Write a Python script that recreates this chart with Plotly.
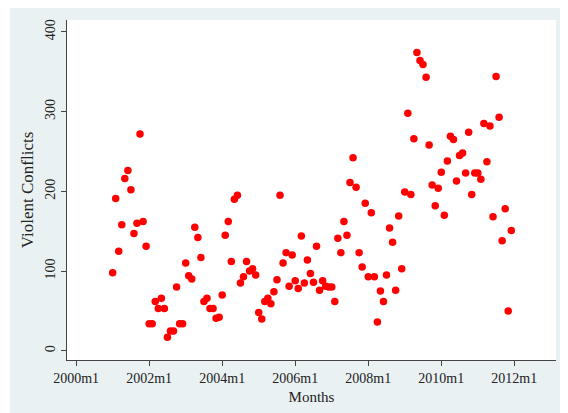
import pandas as pd
import plotly.graph_objects as go


##########################
########## DATA ##########
##########################

# monthly series, 2001m1 .. 2011m12
start_month = '2001-01'
end_month = '2011-12'

conflicts_2001 = [98, 191, 125, 158, 216, 226, 202, 147, 160, 272, 162, 131]
conflicts_2002 = [34, 34, 62, 53, 66, 53, 17, 25, 25, 80, 34, 34]
conflicts_2003 = [110, 94, 90, 155, 142, 117, 62, 66, 53, 53, 41, 42]
conflicts_2004 = [70, 145, 162, 112, 190, 195, 85, 93, 112, 100, 103, 95]
conflicts_2005 = [48, 40, 62, 66, 59, 74, 89, 195, 110, 123, 81, 120]
conflicts_2006 = [88, 78, 144, 85, 114, 97, 86, 131, 76, 88, 81, 80]
conflicts_2007 = [80, 62, 141, 123, 162, 145, 211, 242, 205, 123, 105, 185]
conflicts_2008 = [93, 173, 93, 36, 75, 62, 95, 154, 136, 76, 169, 103]
conflicts_2009 = [199, 298, 196, 266, 374, 364, 359, 343, 258, 208, 182, 204]
conflicts_2010 = [224, 170, 238, 269, 265, 213, 245, 248, 223, 274, 196, 223]
conflicts_2011 = [223, 215, 285, 237, 282, 168, 344, 293, 138, 178, 50, 151]

x_tick_labels = ['2000m1', '2002m1', '2004m1', '2006m1', '2008m1', '2010m1', '2012m1']
y_tick_values = [0, 100, 200, 300, 400]


def get_df():
    conflicts = (conflicts_2001 + conflicts_2002 + conflicts_2003 + conflicts_2004
                 + conflicts_2005 + conflicts_2006 + conflicts_2007 + conflicts_2008
                 + conflicts_2009 + conflicts_2010 + conflicts_2011)
    months = pd.period_range(start_month, end_month, freq='M')
    df = pd.DataFrame({'month': months, 'conflicts': conflicts})
    # months since 2000m1, like a stata %tm axis
    df['t'] = (df['month'].dt.year - 2000) * 12 + df['month'].dt.month - 1
    return df


def tick_pos(label):
    year, month = label.split('m')
    return (int(year) - 2000) * 12 + int(month) - 1


##########################
########## PLOT ##########
##########################

W, H = 568, 413
OFF = 8  # default body margin of the html page

# plot area in page pixels
px_left, px_right, px_top, px_bottom = 67, 556, 20, 360
pw, ph = px_right - px_left, px_bottom - px_top


def px_x(x):
    return (x - px_left) / pw


def px_y(y):
    return (px_bottom - y) / ph


df = get_df()

fig = go.Figure(go.Scatter(
    x=df['t'], y=df['conflicts'], mode='markers',
    marker=dict(color='#ff0000', size=7.5, line=dict(width=0)),
))

axis_font = dict(family='Liberation Serif', size=14, color='#222')

fig.update_layout(
    width=W, height=H,
    margin=dict(l=px_left - OFF, r=W - (px_right - OFF) , t=px_top - OFF,
                b=H - (px_bottom - OFF), pad=0),
    paper_bgcolor='#eaf1f2',
    plot_bgcolor='white',
    showlegend=False,
    font=axis_font,
    shapes=[
        # white border of the screenshot around the graph region
        dict(type='rect', xref='paper', yref='paper', layer='below', line_width=0,
             fillcolor='white', x0=px_x(0), x1=px_x(10), y0=px_y(H + 20), y1=px_y(0)),
        dict(type='rect', xref='paper', yref='paper', layer='below', line_width=0,
             fillcolor='white', x0=px_x(561), x1=px_x(W + 20), y0=px_y(H + 20), y1=px_y(0)),
    ],
)

fig.update_xaxes(
    range=[-3, 157.7],
    tickvals=[tick_pos(s) for s in x_tick_labels], ticktext=x_tick_labels,
    ticks='outside', ticklen=5, tickcolor='#444',
    showline=True, linecolor='#444', linewidth=1,
    showgrid=False, zeroline=False,
    title=dict(text='Months', font=dict(size=15), standoff=6),
)
fig.update_yaxes(
    range=[-11.5, 414.8],
    tickvals=y_tick_values, tickangle=-90,
    ticks='outside', ticklen=5, tickcolor='#444',
    showline=True, linecolor='#444', linewidth=1,
    showgrid=False, zeroline=False,
    title=dict(text='Violent Conflicts', font=dict(size=17), standoff=5),
)

fig.write_html("out.html")
